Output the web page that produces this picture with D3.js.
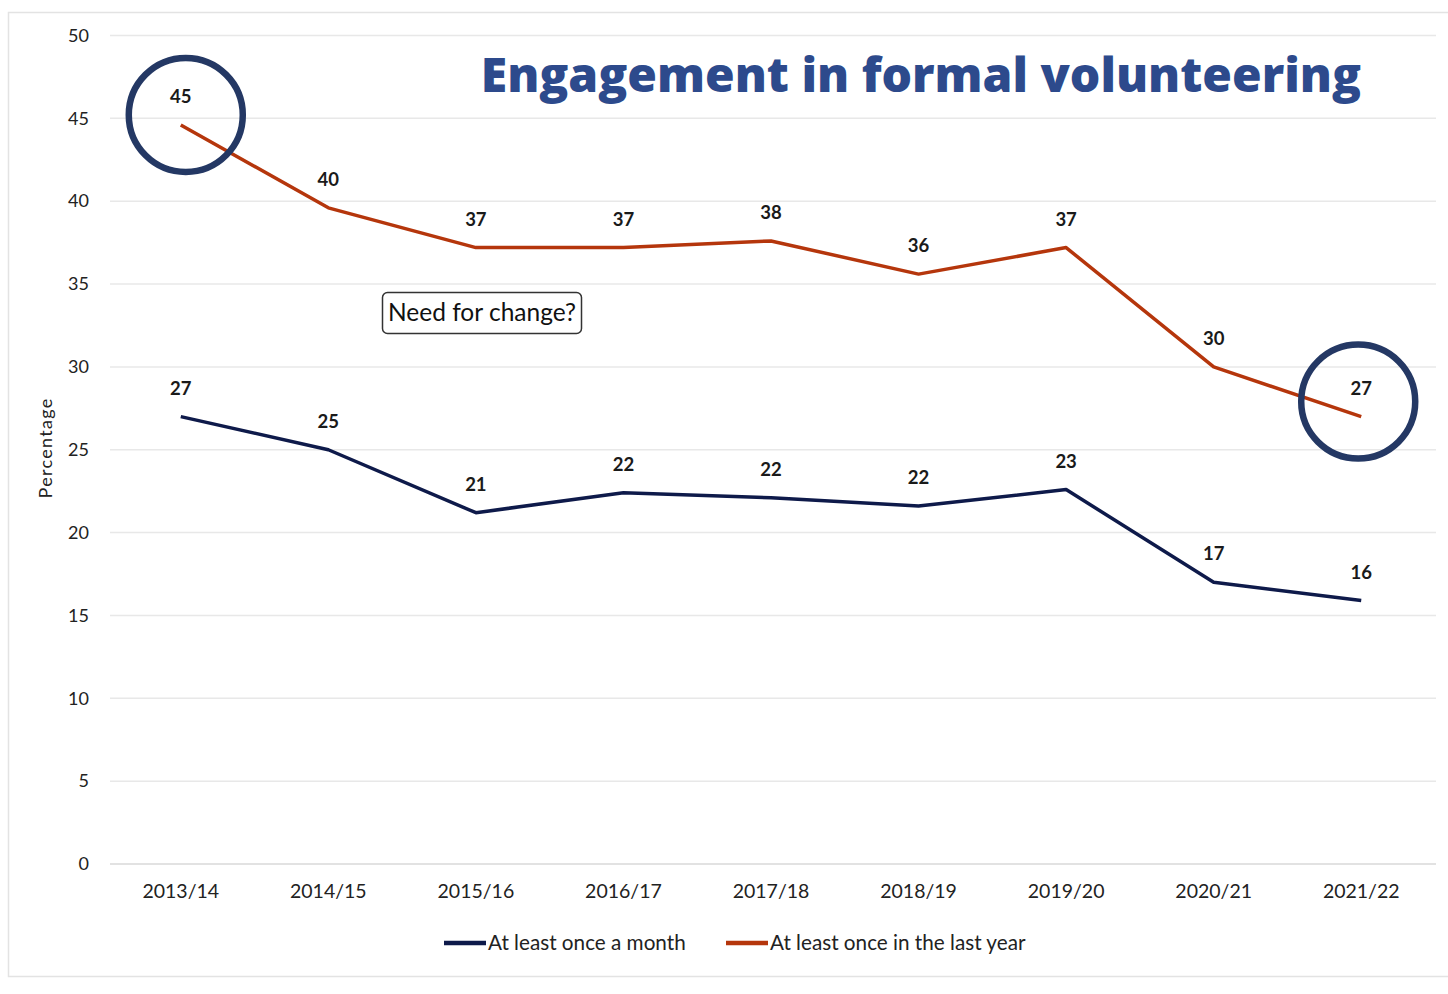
<!DOCTYPE html>
<html>
<head>
<meta charset="utf-8">
<script src="https://cdn.jsdelivr.net/npm/d3@7"></script>
<style>
  html, body { margin: 0; padding: 0; background: #ffffff; }
  svg { display: block; }
</style>
</head>
<body>
<svg id="chart" width="1448" height="994"></svg>
<script>
// Survey years
const years = ["2013/14", "2014/15", "2015/16", "2016/17", "2017/18", "2018/19", "2019/20", "2020/21", "2021/22"];
// Percentage engaging in formal volunteering at least once a month
const monthly = [27.0, 25.0, 21.2, 22.4, 22.1, 21.6, 22.6, 17.0, 15.9];
// Percentage engaging in formal volunteering at least once in the last year
const yearly = [44.6, 39.6, 37.2, 37.2, 37.6, 35.6, 37.2, 30.0, 27.0];
// Y axis ticks
const yTicks = [0, 5, 10, 15, 20, 25, 30, 35, 40, 45, 50];
const seriesNames = ["At least once a month", "At least once in the last year"];
const highlighted = [0, 8]; // indices of yearly points ringed

const W = 1448, H = 994;
const svg = d3.select("#chart");
const font = "Lato, 'Open Sans', sans-serif";

const margin = { left: 107, right: 13, top: 36, bottom: 130 };
const x = d3.scaleBand().domain(years).range([margin.left, W - margin.right]).padding(0);
const y = d3.scaleLinear().domain([0, 50]).range([864, 35.5]);
const cx = d => x(d) + x.bandwidth() / 2;

// Chart frame
svg.append("rect")
  .attr("x", 8.5).attr("y", 12.5).attr("width", W).attr("height", 964)
  .attr("fill", "none").attr("stroke", "#e3e3e3").attr("stroke-width", 1.5);

// Gridlines
svg.append("g").selectAll("line").data(yTicks).join("line")
  .attr("x1", margin.left + 3).attr("x2", W - 12)
  .attr("y1", d => y(d)).attr("y2", d => y(d))
  .attr("stroke", d => d === 0 ? "#d9d9d9" : "#e8e8e8")
  .attr("stroke-width", 1.5);

// Y axis labels
const yAxis = svg.append("g").attr("transform", `translate(${margin.left - 18},0)`)
  .call(d3.axisLeft(y).tickValues(yTicks).tickSize(0).tickPadding(0));
yAxis.select(".domain").remove();
yAxis.selectAll("text")
  .attr("font-family", font).attr("font-size", 18).attr("fill", "#222");

// X axis labels
const xAxis = svg.append("g").attr("transform", `translate(0,${y(0) + 20})`)
  .call(d3.axisBottom(x).tickSize(0).tickPadding(0));
xAxis.select(".domain").remove();
xAxis.selectAll("text")
  .attr("dy", "0.71em")
  .attr("font-family", font).attr("font-size", 19.5).attr("fill", "#222");

// Y axis title
svg.append("text")
  .attr("transform", "translate(52,448) rotate(-90)")
  .attr("text-anchor", "middle")
  .attr("font-family", font).attr("font-size", 18).attr("letter-spacing", 1.3)
  .attr("fill", "#222")
  .text("Percentage");

const line = d3.line().x((d, i) => cx(years[i])).y(d => y(d));

const series = [
  { name: seriesNames[0], values: monthly, color: "#0e1a4a" },
  { name: seriesNames[1], values: yearly, color: "#b5360c" }
];

series.forEach(s => {
  svg.append("path")
    .datum(s.values)
    .attr("fill", "none")
    .attr("stroke", s.color)
    .attr("stroke-width", 3.5)
    .attr("stroke-linejoin", "round")
    .attr("d", line);

  svg.append("g").selectAll("text").data(s.values).join("text")
    .attr("x", (d, i) => cx(years[i]))
    .attr("y", d => y(d) - 22)
    .attr("text-anchor", "middle")
    .attr("font-family", font).attr("font-size", 18.5).attr("font-weight", 700)
    .attr("fill", "#1a1a1a")
    .text(d => d3.format(".0f")(d));
});

// Rings around the first and last yearly values
svg.append("g").selectAll("circle").data(highlighted).join("circle")
  .attr("cx", i => cx(years[i]) + (i === 0 ? 5 : -3))
  .attr("cy", i => y(yearly[i]) - (i === 0 ? 10 : 15))
  .attr("r", 57)
  .attr("fill", "none")
  .attr("stroke", "#243864")
  .attr("stroke-width", 6.5);

// Title
svg.append("text")
  .attr("x", 1361).attr("y", 92)
  .attr("text-anchor", "end")
  .attr("font-family", "'Open Sans', sans-serif")
  .attr("font-size", 48).attr("font-weight", 800)
  .attr("fill", "#2d4a8c")
  .text("Engagement in formal volunteering");

// "Need for change?" callout
const callout = svg.append("g").attr("transform", "translate(382,292)");
callout.append("rect")
  .attr("x", 0.5).attr("y", 0.5).attr("width", 199).attr("height", 41).attr("rx", 5)
  .attr("fill", "#fff").attr("stroke", "#333").attr("stroke-width", 1.5);
callout.append("text")
  .attr("x", 100).attr("y", 29)
  .attr("text-anchor", "middle")
  .attr("font-family", font).attr("font-size", 24.5)
  .attr("fill", "#111")
  .text("Need for change?");

// Legend
const legendItems = [
  { name: seriesNames[0], color: "#0e1a4a", x: 444 },
  { name: seriesNames[1], color: "#b5360c", x: 726 }
];
const legend = svg.append("g").selectAll("g").data(legendItems).join("g")
  .attr("transform", d => `translate(${d.x},943)`);
legend.append("line")
  .attr("x1", 0).attr("x2", 42).attr("y1", 0).attr("y2", 0)
  .attr("stroke", d => d.color).attr("stroke-width", 4.5);
legend.append("text")
  .attr("x", 44).attr("y", 0).attr("dy", "0.35em")
  .attr("font-family", font).attr("font-size", 20.7).attr("fill", "#222")
  .text(d => d.name);
</script>
</body>
</html>
